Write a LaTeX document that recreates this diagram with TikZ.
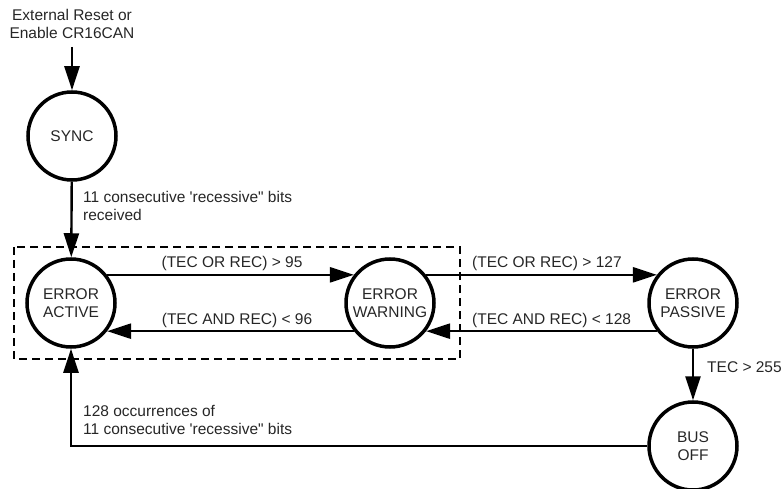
\documentclass[tikz,border=0pt]{standalone}
\usepackage{fontspec}
\setmainfont{Liberation Sans}[Ligatures=TeXOff]
\usetikzlibrary{arrows.meta}
\begin{document}
\begin{tikzpicture}[x=1pt,y=-1pt,
  state/.style={circle,draw,line width=3.5pt,minimum size=88pt,inner sep=0pt,align=center,text=black!85},
  conn/.style={line width=2.4pt,-{Triangle[length=24pt,width=15pt]}},
  lbl/.style={text=black!85,inner sep=0pt},
  font=\fontsize{15.5}{18}\selectfont]
\useasboundingbox (0,0) rectangle (782,489);
\node[state] (sync) at (72,136) {SYNC};
\node[state] (ea) at (71,303) {ERROR\\ACTIVE};
\node[state] (ew) at (390,303) {ERROR\\WARNING};
\node[state] (ep) at (693,303) {ERROR\\PASSIVE};
\node[state] (bo) at (693,446) {BUS\\OFF};
\node[lbl,align=center] (ext) at (72,24) {External Reset or\\Enable CR16CAN};
\coordinate (in) at (72,47);
\draw[conn] (in) -- (sync);
\draw[conn] (sync) -- (ea);
\draw[conn] (ea.38) -- (ew.142);
\draw[conn] (ew.-142) -- (ea.-38);
\draw[conn] (ew.38) -- (ep.142);
\draw[conn] (ep.-142) -- (ew.-38);
\draw[conn] (ep) -- (bo);
\draw[conn] (bo.west) -| (ea.south);
\draw[line width=2pt,dash pattern=on 8pt off 5pt] (14,247) rectangle (460,359);
\node[lbl] (l1) at (232,263) {(TEC OR REC) > 95};
\node[lbl] (l2) at (237,320) {(TEC AND REC) < 96};
\node[lbl,anchor=west] (l3) at (472,263) {(TEC OR REC) > 127};
\node[lbl,anchor=west] (l4) at (472,320) {(TEC AND REC) < 128};
\node[lbl,anchor=west] (l5) at (707,367) {TEC > 255};
\node[lbl,anchor=west,align=left] (l6) at (83,206) {11 consecutive 'recessive" bits\\received};
\node[lbl,anchor=west,align=left] (l7) at (83,420) {128 occurrences of\\11 consecutive 'recessive" bits};
\end{tikzpicture}
\end{document}
